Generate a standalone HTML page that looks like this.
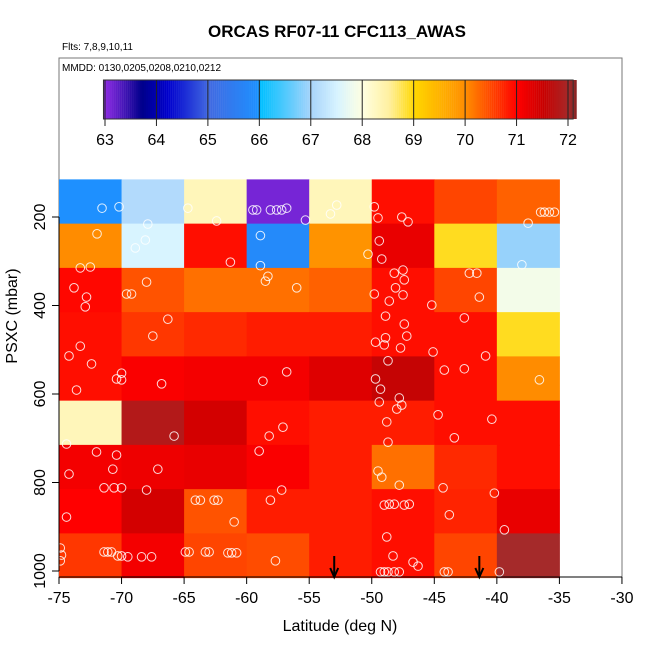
<!DOCTYPE html>
<html><head><meta charset="utf-8"><style>
body{margin:0;background:#fff;}
svg text{font-family:"Liberation Sans",sans-serif;}
</style></head><body>
<svg id="chart" width="650" height="650" xmlns="http://www.w3.org/2000/svg">
<rect x="0" y="0" width="650" height="650" fill="#fff"/>
<text x="337" y="37" text-anchor="middle" font-size="17" font-weight="bold">ORCAS RF07-11 CFC113_AWAS</text>
<text x="62" y="50" font-size="10">Flts: 7,8,9,10,11</text>
<rect x="59" y="58" width="563" height="519" fill="none" stroke="#777" stroke-width="1"/>
<text x="62" y="71" font-size="10">MMDD: 0130,0205,0208,0210,0212</text>
<g id="cells"></g>
<g id="cbar"></g>
<g id="pts"></g>
<g id="axes"></g>
<text x="340" y="631" text-anchor="middle" font-size="16">Latitude (deg N)</text>
<text transform="translate(17,316) rotate(-90)" text-anchor="middle" font-size="16">PSXC (mbar)</text>
</svg>
<script>
const latBins=[-75,-70,-65,-60,-55,-50,-45,-40];
const presBins=[115,215,315,415,515,615,715,815,915];
const cellValues=[
[65.95,67.1,68.3,63.1,68.3,70.9,70.5,70.3],
[70.0,67.5,70.9,65.8,69.9,71.2,68.9,66.9],
[70.95,70.4,70.2,70.2,70.3,70.9,70.5,67.85],
[70.9,70.6,70.7,70.8,70.8,70.9,70.9,68.9],
[70.9,71.05,71.1,71.1,71.3,71.55,70.9,70.0],
[68.3,71.8,71.4,70.9,70.8,70.8,70.9,70.9],
[71.1,71.15,71.2,71.05,70.8,70.2,70.7,70.9],
[71.0,71.4,70.4,70.8,70.8,70.9,70.75,71.2],
[70.6,71.1,70.5,70.45,70.8,70.9,70.5,72.0]];
const cbarTicks=[63,64,65,66,67,68,69,70,71,72];
const xTicks=[-75,-70,-65,-60,-55,-50,-45,-40,-35,-30];
const yTicks=[200,400,600,800,1000];
const ptLat=[-71.56,-70.2,-71.96,-73.3,-72.5,-72.8,-73.8,-72.9,-73.3,-74.2,-72.4,-73.6,-70.4,-70.0,-70.0,-74.4,-72.0,-70.4,-70.7,-74.2,-71.4,-70.6,-70.0,-74.4,-74.9,-74.8,-74.9,-71.4,-71.1,-70.8,-70.3,-70.0,-69.5,-68.4,-67.6,
-68.9,-67.9,-68.1,-69.6,-69.2,-68.0,-67.5,-66.3,-66.8,-68.0,-67.1,-65.8,
-64.7,-62.4,-61.3,-63.7,-64.1,-62.6,-62.3,-61.0,-64.9,-64.6,-63.3,-63.0,-61.5,-61.2,-60.8,
-59.5,-59.2,-58.1,-57.6,-57.2,-56.8,-58.9,-58.9,-58.5,-58.3,-56.0,-58.7,-56.8,-58.2,-57.1,-59.0,-58.1,-57.2,-57.7,
-55.3,-53.3,-52.8,-50.3,-49.8,-49.5,-47.6,-47.1,-49.4,-49.2,-48.2,-47.5,-47.4,-47.5,-48.1,-48.6,-49.8,-47.4,-47.2,-48.9,-48.9,-47.7,-48.7,-49.0,-49.7,-49.7,-49.3,-47.8,-47.6,-49.4,-48.0,-48.8,-48.7,-49.5,-49.2,-47.8,-49.0,-48.6,-48.2,-47.4,-47.0,-48.8,-48.3,-49.3,-49.0,-48.7,-48.2,-47.8,-46.7,-46.3,
-45.2,-45.1,-44.7,-44.2,-43.4,-42.6,-42.6,-42.2,-41.6,-40.9,-40.4,-40.2,-41.4,-44.3,-43.8,-44.2,-43.9,
-37.5,-36.5,-36.2,-35.8,-35.4,-38.0,-36.6,-39.4,-39.8];
const ptPres=[180,177,238,315,313,381,360,403,492,514,532,591,566,568,553,713,731,738,770,781,812,812,812,878,948,964,977,957,957,957,966,966,968,968,968,
270,216,252,374,374,347,469,431,577,817,770,695,
180,209,302,840,840,840,840,889,957,957,957,957,959,959,959,
184,184,184,184,184,180,242,310,345,334,360,571,550,695,675,729,840,817,977,
207,193,173,284,177,202,200,211,254,295,327,320,342,376,360,390,374,442,469,424,473,496,525,489,483,566,589,609,625,618,634,663,709,774,788,806,851,849,849,851,849,923,966,1002,1002,1002,1002,1002,980,989,
399,505,647,546,699,543,428,327,327,514,657,824,381,812,873,1002,1002,
214,189,189,189,189,308,568,907,1002];
const arrowLat=[-53,-41.4];

const NS="http://www.w3.org/2000/svg";
const X0=59,PXD=12.51,Y0=217,PXP=0.4425;
const xs=v=>X0+(v+75)*PXD;
const ys=p=>Y0+(p-200)*PXP;
const stops=[[63,"#8a2be2"],[63.7,"#00008b"],[64.2,"#0000cd"],[65,"#4169e1"],[65.95,"#1e90ff"],[66,"#00bfff"],[67,"#a8d4fb"],[67.5,"#d8f4ff"],[68,"#ffffe0"],[68.5,"#fff0a0"],[69,"#ffd700"],[69.3,"#ffc000"],[70,"#ff8c00"],[70.5,"#ff4500"],[71,"#ff0000"],[71.5,"#c80000"],[72,"#a52a2a"],[72.1,"#8b2323"]];
function hx(c){return [1,3,5].map(i=>parseInt(c.substr(i,2),16));}
function col(v){
 if(v<=stops[0][0])return stops[0][1];
 for(let i=1;i<stops.length;i++){if(v<=stops[i][0]){const a=stops[i-1],b=stops[i];const t=(v-a[0])/(b[0]-a[0]);const A=hx(a[1]),B=hx(b[1]);return "rgb("+A.map((x,k)=>Math.round(x+(B[k]-x)*t)).join(",")+")";}}
 return stops[stops.length-1][1];}
function mk(tag,attrs,parent){const e=document.createElementNS(NS,tag);for(const k in attrs)e.setAttribute(k,attrs[k]);parent.appendChild(e);return e;}

const cells=document.getElementById('cells');
cellValues.forEach((row,r)=>row.forEach((v,c)=>{
 const x1=xs(latBins[c]),x2=xs(latBins[c]+5),y1=ys(presBins[r]),y2=ys(presBins[r]+100);
 const e=mk('rect',{x:x1,y:y1,width:x2-x1+0.5,height:y2-y1+0.5,fill:col(v)},cells);
 
 
}));

// colorbar
const cb=document.getElementById('cbar');
const CB0=105,CB1=568,CBY=80,CBH=39;
const cx=v=>CB0+(v-63)*(CB1-CB0)/9;
for(let i=0;i<234;i++){const v=62.97+i*0.0393;const x=cx(v);
 mk('rect',{x:x,y:CBY,width:2.2,height:CBH,fill:col(v)},cb);}
mk('rect',{x:cx(62.97),y:CBY,width:cx(72.1)-cx(62.97),height:CBH,fill:'none',stroke:'#333','stroke-width':1},cb);
cbarTicks.forEach(t=>{
 mk('line',{x1:cx(t),x2:cx(t),y1:CBY,y2:CBY+CBH+7,stroke:'#222','stroke-width':1},cb);
 const tx=mk('text',{x:cx(t),y:145,'text-anchor':'middle','font-size':16},cb);tx.textContent=t;
 
 
});

// points
const pts=document.getElementById('pts');
ptLat.forEach((la,i)=>{
 const e=mk('circle',{cx:xs(la),cy:ys(ptPres[i]),r:4.3,fill:'none',stroke:'#fff','stroke-width':1,opacity:0.85},pts);
 
 
});
arrowLat.forEach(la=>{
 const x=xs(la);
 const g=mk('g',{},pts);
 
 
 mk('line',{x1:x,x2:x,y1:556,y2:576,stroke:'#000','stroke-width':2},g);
 mk('path',{d:`M${x-4},${568} L${x},${577} L${x+4},${568}`,fill:'none',stroke:'#000','stroke-width':2},g);
});

// axes
const ax=document.getElementById('axes');
mk('line',{x1:X0,x2:xs(-30),y1:577,y2:577,stroke:'#000'},ax);
xTicks.forEach(t=>{const x=xs(t);
 mk('line',{x1:x,x2:x,y1:577,y2:584,stroke:'#000'},ax);
 const e=mk('text',{x:x,y:603,'text-anchor':'middle','font-size':16},ax);e.textContent=t;
 
 
});
mk('line',{x1:X0,x2:X0,y1:ys(200),y2:ys(1000),stroke:'#000'},ax);
yTicks.forEach(t=>{const y=ys(t);
 mk('line',{x1:X0-7,x2:X0,y1:y,y2:y,stroke:'#000'},ax);
 const e=mk('text',{'text-anchor':'middle','font-size':16,transform:`translate(45,${y}) rotate(-90)`},ax);e.textContent=t;
 
 
});
</script>
</body></html>
